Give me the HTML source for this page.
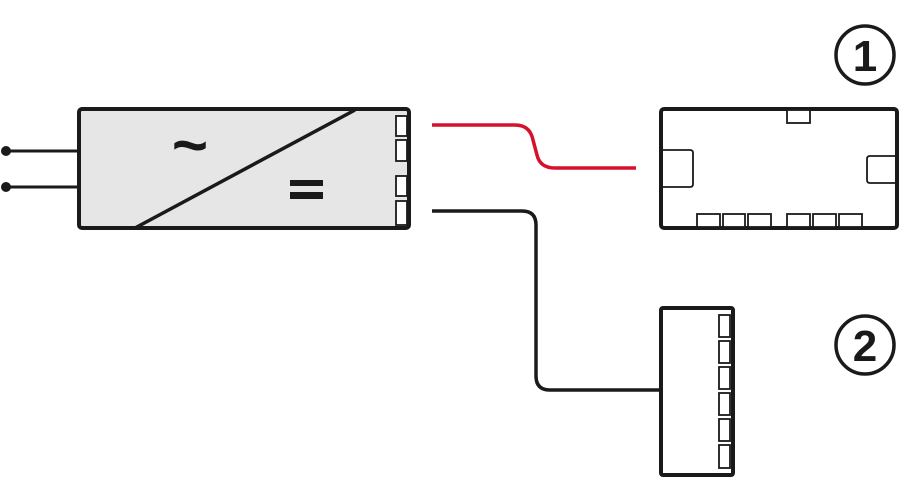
<!DOCTYPE html>
<html><head><style>html,body{margin:0;padding:0;background:#fff;}svg{display:block}</style></head>
<body>
<svg width="900" height="500" viewBox="0 0 900 500" xmlns="http://www.w3.org/2000/svg">
<g fill="none" stroke="#1a1a1a" stroke-width="3">
<line x1="6" y1="151" x2="78" y2="151"/>
<line x1="6" y1="187" x2="78" y2="187"/>
</g>
<circle cx="6" cy="151" r="5" fill="#1a1a1a"/>
<circle cx="6" cy="187" r="5" fill="#1a1a1a"/>
<rect x="79" y="109" width="330" height="119" rx="3" fill="#e6e6e6" stroke="#1a1a1a" stroke-width="4"/>
<line x1="135" y1="228" x2="355" y2="110" stroke="#1a1a1a" stroke-width="3.5"/>
<g fill="#fff" stroke="#1a1a1a" stroke-width="1.8">
<rect x="396" y="116" width="11" height="20"/>
<rect x="396" y="140" width="11" height="21"/>
<rect x="396" y="176" width="11" height="20"/>
<rect x="396" y="201" width="11" height="24"/>
</g>
<text x="190" y="166" font-family="Liberation Sans, sans-serif" font-size="62" font-weight="bold" text-anchor="middle" fill="#1a1a1a">~</text>
<rect x="290" y="180" width="33" height="6" fill="#1a1a1a"/>
<rect x="290" y="192" width="33" height="7" fill="#1a1a1a"/>
<path d="M432 125 H515 Q530 125 533 140 L537 155 Q540 168 555 168 H636" fill="none" stroke="#d6112c" stroke-width="3.5"/>
<path d="M432 211 H522 Q536 211 536 225 V376 Q536 390 550 390 H662" fill="none" stroke="#1a1a1a" stroke-width="3.5"/>
<rect x="661" y="109" width="236" height="119" rx="3" fill="#fff" stroke="#1a1a1a" stroke-width="4"/>
<g fill="#fff" stroke="#1a1a1a" stroke-width="1.8">
<rect x="787" y="110" width="23" height="13"/>
<path d="M663 150 H690 Q693 150 693 153 V184 Q693 187 690 187 H663"/>
<path d="M895 156 H870 Q867 156 867 159 V180 Q867 183 870 183 H895"/>
<rect x="697" y="214" width="23" height="13"/>
<rect x="723" y="214" width="22" height="13"/>
<rect x="748" y="214" width="23" height="13"/>
<rect x="787" y="214" width="23" height="13"/>
<rect x="813" y="214" width="23" height="13"/>
<rect x="839" y="214" width="23" height="13"/>
</g>
<rect x="661" y="308" width="72" height="167" rx="2" fill="#fff" stroke="#1a1a1a" stroke-width="4"/>
<g fill="#fff" stroke="#1a1a1a" stroke-width="1.8">
<rect x="719" y="315" width="11" height="22"/>
<rect x="719" y="341" width="11" height="22"/>
<rect x="719" y="367" width="11" height="22"/>
<rect x="719" y="393" width="11" height="22"/>
<rect x="719" y="419" width="11" height="22"/>
<rect x="719" y="445" width="11" height="23"/>
</g>
<circle cx="865" cy="55" r="29" fill="none" stroke="#1a1a1a" stroke-width="3.5"/>
<text x="865" y="71" font-family="Liberation Sans, sans-serif" font-size="44" font-weight="bold" text-anchor="middle" fill="#1a1a1a">1</text>
<circle cx="865" cy="345" r="29" fill="none" stroke="#1a1a1a" stroke-width="3.5"/>
<text x="865" y="361" font-family="Liberation Sans, sans-serif" font-size="44" font-weight="bold" text-anchor="middle" fill="#1a1a1a">2</text>
</svg>
</body></html>
